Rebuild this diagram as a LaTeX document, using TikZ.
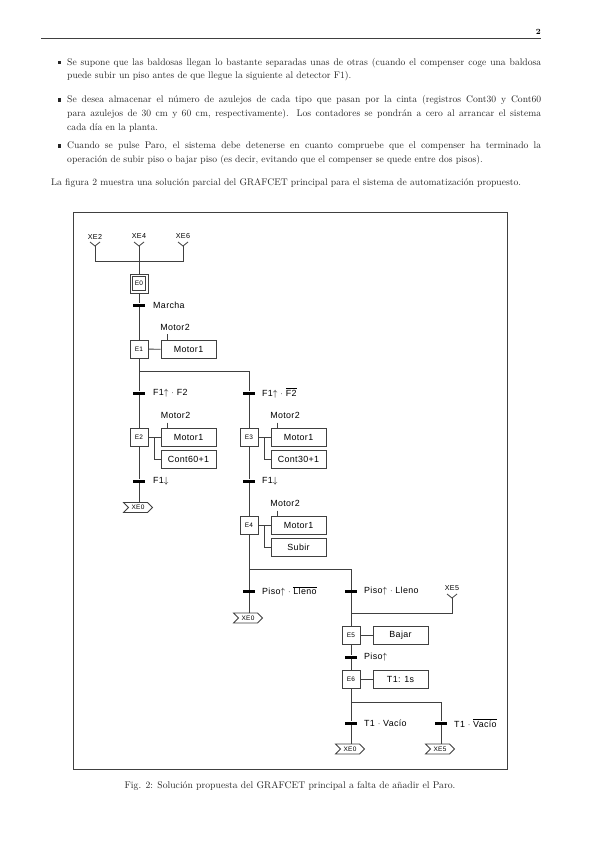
\documentclass[tikz,border=0pt]{standalone}
\usepackage{fontspec}
\usetikzlibrary{shapes.symbols,backgrounds}
\newfontfamily\diag[LetterSpace=4]{Liberation Sans}
\tikzset{
  ln/.style={draw=black!75,line width=0.8pt},
  para/.style={anchor=north west,inner sep=0pt,text width=474pt,align=justify,font=\fontsize{9.6}{13.6}\selectfont\sloppy,text=black!85},
  bull/.style={rectangle,fill=black!85,minimum size=3.4pt,inner sep=0pt},
  stepbox/.style={rectangle,draw=black!75,line width=0.8pt,fill=white,minimum width=18pt,minimum height=18pt,inner sep=0pt,font=\diag\fontsize{6.5}{7}\selectfont},
  actbox/.style={rectangle,draw=black!75,line width=0.8pt,fill=white,minimum width=55pt,minimum height=18pt,inner sep=0pt,font=\diag\fontsize{8.9}{10}\selectfont},
  trans/.style={rectangle,fill=black,minimum width=12pt,minimum height=3pt,inner sep=0pt},
  lab/.style={anchor=west,inner sep=0pt,font=\diag\fontsize{8.9}{10}\selectfont},
  tag/.style={inner sep=0pt,font=\diag\fontsize{8.9}{9}\selectfont},
  vname/.style={inner sep=0pt,font=\diag\fontsize{7.2}{8}\selectfont},
  jump/.style={signal,signal to=east,signal from=west,draw=black!75,line width=0.8pt,fill=white,minimum width=29pt,minimum height=10pt,inner sep=0pt,font=\diag\fontsize{6.5}{7}\selectfont}
}
\newcommand{\yfork}[3]{% name, x, vertex y
  \coordinate (#1) at (#2,#3);
  \draw[ln] (#2-5,#3-4) -- (#1) -- (#2+5,#3-4);}
\begin{document}
\begin{tikzpicture}[x=1pt,y=-1pt]
\useasboundingbox (0,0) rectangle (599,848);
% header
\node[anchor=east,inner sep=0pt,font=\fontsize{8}{10}\selectfont\bfseries] (pg) at (541,32) {2};
\draw[black!75,line width=0.8pt] (41,38.7) -- (541,38.7);
% text
\node[bull] (b1) at (59.5,62.5) {};
\node[para] (p1) at (67,58) {Se supone que las baldosas llegan lo bastante separadas unas de otras (cuando el compenser coge una baldosa\linebreak puede subir un piso antes de que llegue la siguiente al detector F1).};
\node[bull] (b2) at (59.5,100) {};
\node[para] (p2) at (67,95.5) {Se desea almacenar el número de azulejos de cada tipo que pasan por la cinta (registros Cont30 y Cont60\linebreak para azulejos de 30 cm y 60 cm, respectivamente). Los contadores se pondrán a cero al arrancar el sistema\linebreak cada día en la planta.};
\node[bull] (b3) at (59.5,146) {};
\node[para] (p3) at (67,141.5) {Cuando se pulse Paro, el sistema debe detenerse en cuanto compruebe que el compenser ha terminado la\linebreak operación de subir piso o bajar piso (es decir, evitando que el compenser se quede entre dos pisos).};
\node[para,text width=490pt,anchor=north west] (p4) at (51,178) {La figura 2 muestra una solución parcial del GRAFCET principal para el sistema de automatización propuesto.};
% frame
\node[rectangle,draw=black!75,line width=0.9pt,minimum width=434pt,minimum height=557pt,inner sep=0pt] (frame) at (290,490.5) {};
\node[inner sep=0pt,font=\fontsize{9.7}{11}\selectfont,text=black!85] (cap) at (290,786) {Fig. 2: Solución propuesta del GRAFCET principal a falta de añadir el Paro.};
% fork top
\node[vname] (nE2) at (95,236.5) {XE2};
\node[vname] (nE4) at (139,236.5) {XE4};
\node[vname] (nE6) at (183,236.5) {XE6};
\yfork{y2}{95}{246}
\yfork{y4}{139}{246}
\yfork{y6}{183}{246}
\coordinate (j2) at (95,261.5);
\coordinate (j6) at (183,261.5);
% steps
\node[stepbox,minimum height=19pt] (E0) at (139,283.5) {};
\node[stepbox,minimum width=13pt,minimum height=14pt] (E0i) at (139,283.5) {E0};
\node[stepbox] (E1) at (139,349) {E1};
\node[stepbox] (E2) at (139,437) {E2};
\node[stepbox] (E3) at (249,437) {E3};
\node[stepbox] (E4) at (249,525) {E4};
\node[stepbox] (E5) at (351,635.5) {E5};
\node[stepbox] (E6) at (351,679.5) {E6};
% actions
\node[actbox] (A1) at (188.5,349.5) {Motor1};
\node[actbox] (A2a) at (188.5,437) {Motor1};
\node[actbox] (A2b) at (188.5,459.5) {Cont60+1};
\node[actbox] (A3a) at (298.5,437) {Motor1};
\node[actbox] (A3b) at (298.5,459.5) {Cont30+1};
\node[actbox] (A4a) at (298.5,525.5) {Motor1};
\node[actbox] (A4b) at (298.5,547.5) {Subir};
\node[actbox] (A5) at (400.5,635) {Bajar};
\node[actbox] (A6) at (400.5,679.5) {T1: 1s};
% Motor2 tags
\node[tag] (M1) at (175,327) {Motor2};
\node[tag] (M2) at (175.5,415.5) {Motor2};
\node[tag] (M3) at (285,415.5) {Motor2};
\node[tag] (M4) at (285,503.5) {Motor2};
\draw[ln] (167,334) -- (A1.north -| 167,0);
\draw[ln] (167,422.5) -- (A2a.north -| 167,0);
\draw[ln] (277,422.5) -- (A3a.north -| 277,0);
\draw[ln] (277,510.5) -- (A4a.north -| 277,0);
% transitions
\node[trans] (T0) at (139,305) {};
\node[lab] (L0) at (153,305) {Marcha};
\node[trans] (T1) at (139,393) {};
\node[lab] (L1) at (153,393) {F1$\uparrow$ $\cdot$ F2};
\node[trans] (T2) at (249,393) {};
\node[lab] (L2) at (262,393) {F1$\uparrow$ $\cdot$ $\overline{\mbox{F2}}$};
\node[trans] (T3) at (139,481) {};
\node[lab] (L3) at (153,481) {F1$\downarrow$};
\node[trans] (T4) at (249,481) {};
\node[lab] (L4) at (262,481) {F1$\downarrow$};
\node[trans] (T5) at (249,591.5) {};
\node[lab] (L5) at (262,591.5) {Piso$\uparrow$ $\cdot$ $\overline{\mbox{Lleno}}$};
\node[trans] (T6) at (351,591.5) {};
\node[lab] (L6) at (364,591.5) {Piso$\uparrow$ $\cdot$ Lleno};
\node[trans] (T7) at (351,657) {};
\node[lab] (L7) at (364,657) {Piso$\uparrow$};
\node[trans] (T8) at (351,723) {};
\node[lab] (L8) at (364,723) {T1 $\cdot$ Vacío};
\node[trans] (T9) at (441,723) {};
\node[lab] (L9) at (454,723) {T1 $\cdot$ $\overline{\mbox{Vacío}}$};
% jumps
\node[jump] (J1) at (138,507.5) {XE0};
\node[jump] (J2) at (248,618) {XE0};
\node[jump] (J3) at (350,749) {XE0};
\node[jump] (J4) at (440,749) {XE5};
% XE5 input
\node[vname] (nE5) at (452,588) {XE5};
\yfork{y5}{452}{598}
\coordinate (j5a) at (452,613);
\coordinate (j5b) at (351,613);
% branch points
\coordinate (br1) at (139,371);
\coordinate (br1r) at (249,371);
\coordinate (br2) at (249,569);
\coordinate (br2r) at (351,569);
\coordinate (br3) at (351,702);
\coordinate (br3r) at (441,702);
% connectors
\begin{scope}[on background layer]
\fill[white] (0,0) rectangle (599,848);
\draw[ln] (y2) -- (j2) -- (j6) -- (y6);
\draw[ln] (y4) -- (E0);
\draw[ln] (E0) -- (T0) -- (E1);
\draw[ln] (E1) -- (T1) -- (E2);
\draw[ln] (br1) -- (br1r) -- (T2) -- (E3);
\draw[ln] (E2) -- (T3) -- (T3 |- J1.north);
\draw[ln] (E3) -- (T4) -- (E4);
\draw[ln] (E4) -- (T5) -- (T5 |- J2.north);
\draw[ln] (br2) -- (br2r) -- (T6) -- (E5);
\draw[ln] (y5) -- (j5a) -- (j5b);
\draw[ln] (E5) -- (T7) -- (E6);
\draw[ln] (E6) -- (T8) -- (T8 |- J3.north);
\draw[ln] (br3) -- (br3r) -- (T9) -- (T9 |- J4.north);
\draw[ln] (E1) -- (A1);
\draw[ln] (E2) -- (A2a);
\draw[ln] (E3) -- (A3a);
\draw[ln] (E4) -- (E4 -| A4a.west);
\draw[ln] (E5) -- (E5 -| A5.west);
\draw[ln] (E6) -- (A6);
\draw[ln] (154,437) |- (A2b);
\draw[ln] (264.5,437) |- (A3b);
\draw[ln] (264.5,525) |- (A4b);
\end{scope}
\end{tikzpicture}
\end{document}
